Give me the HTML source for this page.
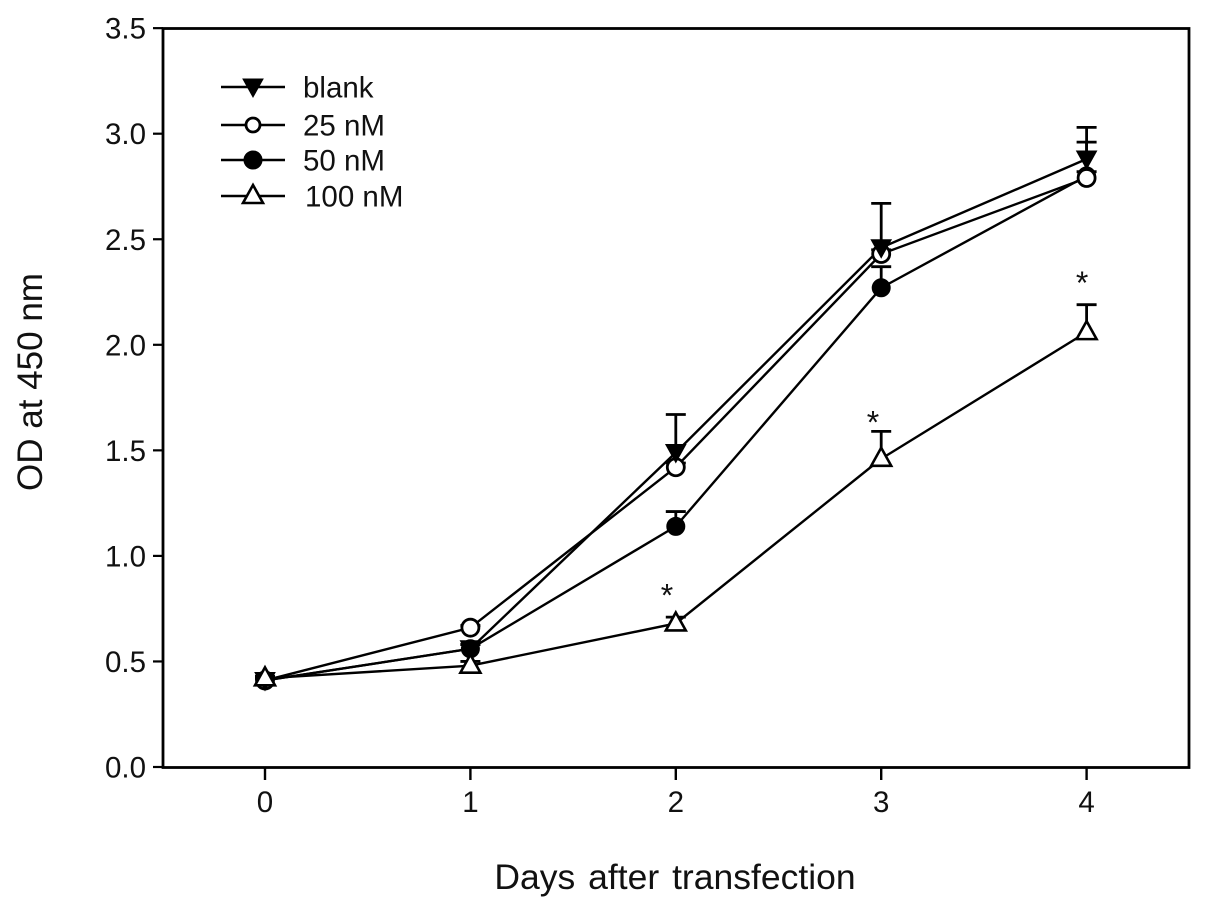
<!DOCTYPE html>
<html lang="en">
<head>
<meta charset="utf-8">
<title>OD at 450 nm vs days after transfection</title>
<style>
html,body{margin:0;padding:0;background:#fff;}
svg{display:block;}
text{font-family:"Liberation Sans",Arial,sans-serif;fill:#111;}
</style>
</head>
<body>
<svg id="chart" width="1205" height="909" viewBox="0 0 1205 909" xmlns="http://www.w3.org/2000/svg">
  <rect width="1205" height="909" fill="#fff"/>
</svg>
<script>
const days = [0, 1, 2, 3, 4];
const yTicks = ['0.0', '0.5', '1.0', '1.5', '2.0', '2.5', '3.0', '3.5'];
const legendLabels = ['blank', '25 nM', '50 nM', '100 nM'];
const blankValues = [0.41, 0.56, 1.49, 2.46, 2.88];
const blankErrors = [0.01, 0.02, 0.18, 0.21, 0.15];
const nM25Values = [0.41, 0.66, 1.42, 2.43, 2.79];
const nM25Errors = [0.01, 0.01, 0.02, 0.02, 0.17];
const nM50Values = [0.41, 0.56, 1.14, 2.27, 2.80];
const nM50Errors = [0.01, 0.02, 0.07, 0.10, 0.02];
const nM100Values = [0.42, 0.48, 0.68, 1.46, 2.06];
const nM100Errors = [0.01, 0.02, 0.03, 0.13, 0.13];
const starDays = [1.957, 2.96, 3.978];
const starValues = [0.85, 1.67, 2.33];
const xTitle = 'Days after transfection';
const yTitle = 'OD at 450 nm';

const svg = document.getElementById('chart');
const NS = 'http://www.w3.org/2000/svg';
const xScale = d => 265 + d * 205.4;
const yScale = v => 767 - v * 211.1;

function mk(tag, attrs, parent) {
  const el = document.createElementNS(NS, tag);
  for (const k in attrs) el.setAttribute(k, attrs[k]);
  (parent || svg).appendChild(el);
  return el;
}
function line(x1, y1, x2, y2, w, parent) {
  return mk('line', {x1, y1, x2, y2, stroke: '#000', 'stroke-width': w}, parent);
}
function label(str, x, y, size, anchor, parent) {
  const t = mk('text', {x, y, 'font-size': size, 'text-anchor': anchor}, parent);
  t.textContent = str;
  return t;
}
function marker(kind, x, y, parent) {
  let m;
  if (kind === 'blank') {
    m = mk('polygon', {points: `${x-10},${y-8} ${x+10},${y-8} ${x},${y+10}`, fill: '#000', stroke: '#000', 'stroke-width': 1}, parent);
  } else if (kind === '25') {
    m = mk('circle', {cx: x, cy: y, r: 8.5, fill: '#fff', stroke: '#000', 'stroke-width': 2.8}, parent);
  } else if (kind === '50') {
    m = mk('circle', {cx: x, cy: y, r: 9, fill: '#000', stroke: '#000', 'stroke-width': 1}, parent);
  } else {
    m = mk('polygon', {points: `${x},${y-11} ${x+10},${y+7} ${x-10},${y+7}`, fill: '#fff', stroke: '#000', 'stroke-width': 2.6}, parent);
  }
  return m;
}

/* axes */
const axes = mk('g', {});


const frame = mk('rect', {x: 163, y: 28.5, width: 1026, height: 739, fill: 'none', stroke: '#000', 'stroke-width': 2.8}, axes);



yTicks.forEach(t => {
  const y = yScale(parseFloat(t));
  const tick = line(153, y, 163, y, 2.2, axes);
  
  
  const tl = label(t, 146, y + 10.5, 29.5, 'end', axes);
  
  
});
days.forEach(d => {
  const x = xScale(d);
  const tick = line(x, 767.5, x, 780, 2.4, axes);
  
  
  const tl = label(String(d), x, 812, 29.5, 'middle', axes);
  
  
});
const xt = label(xTitle, 675, 889, 35.5, 'middle');
xt.setAttribute('word-spacing', '3');


const yt = label(yTitle, 0, 0, 35, 'middle');
yt.setAttribute('transform', 'translate(42 382) rotate(-90)');



/* series: drawn so lines sit below every marker */
const seriesList = [
  {kind: 'blank', values: blankValues, errors: blankErrors},
  {kind: '25', values: nM25Values, errors: nM25Errors},
  {kind: '50', values: nM50Values, errors: nM50Errors},
  {kind: '100', values: nM100Values, errors: nM100Errors}
];
seriesList.forEach(s => {
  const g = mk('g', {});
  
  
  s.values.forEach((v, i) => {
    const x = xScale(days[i]);
    const top = yScale(v + s.errors[i]);
    const stem = line(x, yScale(v), x, top, 2.8, g);
    
    
    const cap = line(x - 10, top, x + 10, top, 2.8, g);
    
    
  });
  const pts = s.values.map((v, i) => xScale(days[i]) + ',' + yScale(v)).join(' ');
  const path = mk('polyline', {points: pts, fill: 'none', stroke: '#000', 'stroke-width': 2.4}, g);
  
  
  s.group = g;
});
[seriesList[2], seriesList[1], seriesList[0], seriesList[3]].forEach(s => {
  const topLayer = mk('g', {});
  
  
  s.values.forEach((v, i) => {
    const m = marker(s.kind, xScale(days[i]), yScale(v), topLayer);
    
    
  });
});

/* significance stars */
starDays.forEach((d, i) => {
  const st = label('*', xScale(d), yScale(starValues[i]) + 19, 32, 'middle');
  
  
});

/* legend */
const legend = mk('g', {});


const legendRows = [87, 125, 160, 196];
legendLabels.forEach((name, i) => {
  const y = legendRows[i];
  const row = mk('g', {}, legend);
  
  
  line(221, y, 285, y, 2.6, row);
  const kind = seriesList[i].kind;
  const m = marker(kind, 253, y, row);
  if (kind === '25') m.setAttribute('r', 7);
  
  
  const t = label(name, i === 3 ? 305 : 303, y + 10.5, 29.5, 'start', row);
  
  
});
</script>
</body>
</html>
